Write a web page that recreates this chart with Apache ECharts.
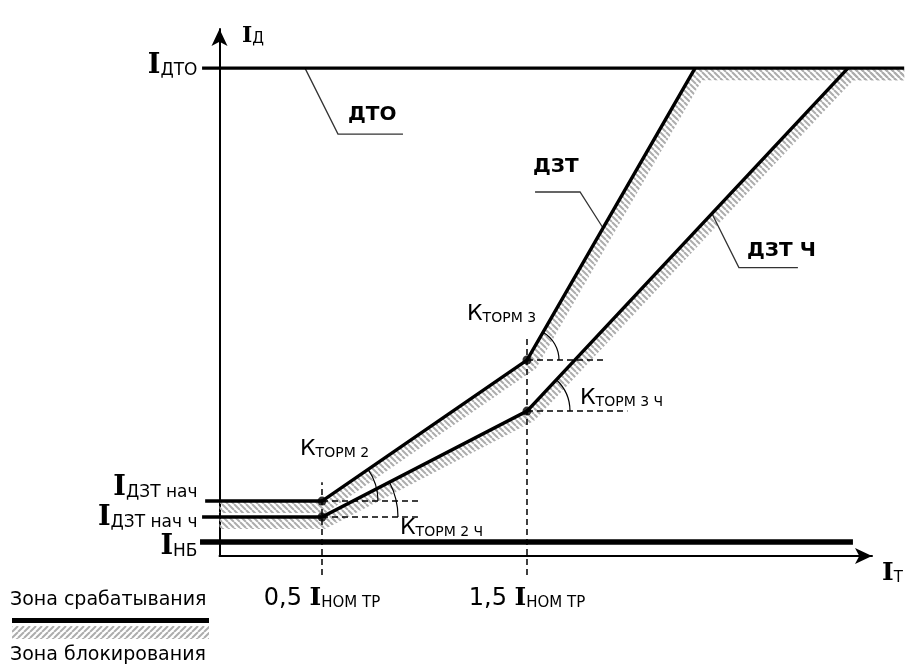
<!DOCTYPE html>
<html><head><meta charset="utf-8">
<script src="https://cdn.jsdelivr.net/npm/echarts@6/dist/echarts.min.js"></script>
<style>html,body{margin:0;padding:0;background:#fff}#c{width:905px;height:666px}</style>
</head><body><div id="c"></div>
<script>
// ---------- data ----------
const X_TICKS = [0.5, 1.5];
const X_TICK_TEXT = ['0,5', '1,5'];
const Y_TICKS = [0.068, 0.19, 0.268, 2.38];
const Y_TICK_SUB = ['НБ', 'ДЗТ нач ч', 'ДЗТ нач', 'ДТО'];

const DZT_X = [-0.07, 0.5, 1.5, 2.32];
const DZT_Y = [0.268, 0.268, 0.956, 2.38];
const DZTCH_X = [-0.085, 0.5, 1.5, 3.066];
const DZTCH_Y = [0.19, 0.19, 0.707, 2.38];
const DTO_X = [-0.085, 3.34];
const DTO_Y = [2.38, 2.38];
const NB_X = [-0.095, 3.09];
const NB_Y = [0.068, 0.068];

const BAND1_X = [0, 0.5, 1.5, 2.32, 3.34];
const BAND1_Y = [0.268, 0.268, 0.956, 2.38, 2.38];
const BAND2_X = [0, 0.5, 1.5, 3.066, 3.34];
const BAND2_Y = [0.19, 0.19, 0.707, 2.38, 2.38];

const GUIDE_V_X = [0.5, 1.5];
const GUIDE_V_Y0 = [-0.093, -0.093];
const GUIDE_V_Y1 = [0.36, 1.06];
const GUIDE_H_Y = [0.268, 0.19, 0.956, 0.707];
const GUIDE_H_X0 = [0.5, 0.5, 1.5, 1.5];
const GUIDE_H_X1 = [0.978, 0.968, 1.88, 1.99];

const BREAK_X = [0.5, 0.5, 1.5, 1.5];
const BREAK_Y = [0.268, 0.19, 0.956, 0.707];
const BREAK_NEXT_X = [1.5, 1.5, 2.32, 3.066];
const BREAK_NEXT_Y = [0.956, 0.707, 2.38, 2.38];

const LEADER_X = [0.417, 1.871, 2.402];
const LEADER_LINE = [[DTO_X, DTO_Y], [DZT_X, DZT_Y], [DZTCH_X, DZTCH_Y]];

// ---------- styles ----------
const Y_LABEL_DY = [4, 0, -14, -3];   // pixel nudges of the left-hand labels
const ARC_R = [56, 76, 32, 43];
const LEADER_OFF = [[[33, 66], [98, 66]], [[-23, -36], [-68, -36]], [[27, 54], [86, 54]]];

function hatch(dir) {
  const s = 6, c = document.createElement('canvas');
  c.width = s; c.height = s;
  const g = c.getContext('2d');
  g.strokeStyle = '#adadad'; g.lineWidth = 2;
  g.beginPath();
  for (let k = -1; k <= 1; k++) {
    if (dir === '\\') { g.moveTo(k * s, 0); g.lineTo(k * s + s, s); }
    else { g.moveTo(k * s, s); g.lineTo(k * s + s, 0); }
  }
  g.stroke();
  return { image: c, repeat: 'repeat' };
}
const HATCH_BACK = hatch('\\');
const HATCH_FWD = hatch('/');

function offsetPoly(pts, w) {
  const n = pts.length, norms = [], out = [];
  for (let i = 0; i < n - 1; i++) {
    const dx = pts[i + 1][0] - pts[i][0], dy = pts[i + 1][1] - pts[i][1];
    const L = Math.hypot(dx, dy);
    norms.push([-dy / L, dx / L]);
  }
  for (let i = 0; i < n; i++) {
    let nx, ny;
    if (i === 0) [nx, ny] = norms[0];
    else if (i === n - 1) [nx, ny] = norms[n - 2];
    else {
      const a = norms[i - 1], b = norms[i];
      let mx = a[0] + b[0], my = a[1] + b[1];
      const ml = Math.hypot(mx, my); mx /= ml; my /= ml;
      const d = mx * a[0] + my * a[1];
      nx = mx / d; ny = my / d;
    }
    out.push([pts[i][0] + nx * w, pts[i][1] + ny * w]);
  }
  return out;
}
function yOnLine(xs, ys, x) {
  for (let i = 0; i < xs.length - 1; i++) {
    if (x >= xs[i] && x <= xs[i + 1]) {
      const t = (x - xs[i]) / (xs[i + 1] - xs[i]);
      return ys[i] + t * (ys[i + 1] - ys[i]);
    }
  }
  return ys[ys.length - 1];
}

const chart = echarts.init(document.getElementById('c'), null, { renderer: 'canvas' });

const SERIF = 'DejaVu Serif';
const SANS = 'DejaVu Sans';
const axisLineStyle = { color: '#000', width: 2 };

// main characteristic lines (drawn through the cartesian scales, not clipped to the grid)
const MAIN_LINES = [[NB_X, NB_Y, 5.5], [DTO_X, DTO_Y, 3.4], [DZT_X, DZT_Y, 3.4], [DZTCH_X, DZTCH_Y, 3.4]];

const option = {
  animation: false,
  backgroundColor: '#fff',
  grid: { left: 219.5, right: 33, top: 29, bottom: 110 },
  xAxis: {
    type: 'value', min: 0, max: 3.183,
    axisLine: { show: true, onZero: false, lineStyle: axisLineStyle, symbol: ['none', 'arrow'], symbolSize: [12, 17] },
    axisTick: { show: false }, splitLine: { show: false },
    axisLabel: {
      customValues: X_TICKS, margin: 27, hideOverlap: false, showMinLabel: true, showMaxLabel: true,
      formatter: (v) => {
        const k = X_TICKS.findIndex(t => Math.abs(t - v) < 1e-6);
        return '{n|' + X_TICK_TEXT[k] + ' }{i|I}{s|НОМ ТР}';
      },
      rich: {
        n: { fontFamily: SANS, fontSize: 24, lineHeight: 28, verticalAlign: 'bottom', color: '#000' },
        i: { fontFamily: SERIF, fontWeight: 'bold', fontSize: 25, lineHeight: 28, verticalAlign: 'bottom', color: '#000' },
        s: { fontFamily: SANS, fontSize: 15, lineHeight: 15, verticalAlign: 'bottom', color: '#000' }
      }
    }
  },
  yAxis: {
    type: 'value', min: 0, max: 2.571,
    axisLine: { show: true, onZero: false, lineStyle: axisLineStyle, symbol: ['none', 'arrow'], symbolSize: [12, 17] },
    axisTick: { show: false }, splitLine: { show: false }, axisLabel: { show: false }
  },
  series: [
    // hatched blocking bands
    {
      type: 'custom', silent: true, z: 1, clip: false,
      data: [[0, 0], [1, 0]],
      renderItem: (params, api) => {
        const bx = params.dataIndex === 0 ? BAND1_X : BAND2_X;
        const by = params.dataIndex === 0 ? BAND1_Y : BAND2_Y;
        const pts = bx.map((x, i) => api.coord([x, by[i]]));
        const off = offsetPoly(pts, 12).reverse();
        return { type: 'polygon', shape: { points: pts.concat(off) }, style: { fill: HATCH_BACK, stroke: null } };
      }
    },
    // level labels on the Y axis (I_ДТО, I_ДЗТ нач, ...)
    {
      type: 'custom', silent: true, z: 10, clip: false,
      data: Y_TICKS.map(v => [0, v]),
      renderItem: (params, api) => {
        const k = params.dataIndex;
        const p = api.coord([api.value(0), api.value(1)]);
        return {
          type: 'text', x: p[0] - 22, y: p[1] + Y_LABEL_DY[k],
          style: {
            text: '{i|I}{s|' + Y_TICK_SUB[k] + '}', align: 'right', verticalAlign: 'middle',
            rich: {
              i: { fontFamily: SERIF, fontWeight: 'bold', fontSize: 27, lineHeight: 28, verticalAlign: 'bottom', fill: '#000' },
              s: { fontFamily: SANS, fontSize: 17, lineHeight: 16, verticalAlign: 'bottom', fill: '#000' }
            }
          }
        };
      }
    },
    // dashed guides
    {
      type: 'custom', silent: true, z: 3, clip: false,
      data: GUIDE_V_X.map((x, i) => [x, GUIDE_V_Y0[i], GUIDE_V_Y1[i]]),
      renderItem: (params, api) => {
        const a = api.coord([api.value(0), api.value(1)]);
        const b = api.coord([api.value(0), api.value(2)]);
        return { type: 'line', shape: { x1: a[0], y1: a[1], x2: b[0], y2: b[1] },
          style: { stroke: '#000', lineWidth: 1.5, lineDash: [6, 4] } };
      }
    },
    {
      type: 'custom', silent: true, z: 3, clip: false,
      data: GUIDE_H_Y.map((y, i) => [GUIDE_H_X0[i], y, GUIDE_H_X1[i]]),
      renderItem: (params, api) => {
        const a = api.coord([api.value(0), api.value(1)]);
        const b = api.coord([api.value(2), api.value(1)]);
        return { type: 'line', shape: { x1: a[0], y1: a[1], x2: b[0], y2: b[1] },
          style: { stroke: '#000', lineWidth: 1.5, lineDash: [6, 4] } };
      }
    },
    // angle arcs
    {
      type: 'custom', silent: true, z: 3, clip: false,
      data: BREAK_X.map((x, i) => [x, BREAK_Y[i], BREAK_NEXT_X[i], BREAK_NEXT_Y[i]]),
      renderItem: (params, api) => {
        const c = api.coord([api.value(0), api.value(1)]);
        const n = api.coord([api.value(2), api.value(3)]);
        const ang = Math.atan2(n[1] - c[1], n[0] - c[0]);
        return { type: 'arc', shape: { cx: c[0], cy: c[1], r: ARC_R[params.dataIndex], startAngle: ang, endAngle: 0, clockwise: true },
          style: { stroke: '#000', fill: null, lineWidth: 1.2 } };
      }
    },
    // leader lines
    {
      type: 'custom', silent: true, z: 3, clip: false,
      data: LEADER_X.map((x, i) => [x, yOnLine(LEADER_LINE[i][0], LEADER_LINE[i][1], x)]),
      renderItem: (params, api) => {
        const p = api.coord([api.value(0), api.value(1)]);
        const o = LEADER_OFF[params.dataIndex];
        return { type: 'polyline', shape: { points: [p, [p[0] + o[0][0], p[1] + o[0][1]], [p[0] + o[1][0], p[1] + o[1][1]]] },
          style: { stroke: '#333', lineWidth: 1.3, fill: null } };
      }
    },
    // characteristic lines
    {
      type: 'custom', silent: true, z: 5, clip: false,
      data: MAIN_LINES.map((m, i) => [i, 0]),
      renderItem: (params, api) => {
        const m = MAIN_LINES[params.dataIndex];
        const pts = m[0].map((x, i) => api.coord([x, m[1][i]]));
        return { type: 'polyline', shape: { points: pts },
          style: { stroke: '#000', lineWidth: m[2], fill: null, lineJoin: 'miter', lineCap: 'butt' } };
      }
    },
    {
      type: 'scatter', data: BREAK_X.map((x, i) => [x, BREAK_Y[i]]), symbol: 'circle', symbolSize: 9, z: 6, silent: true,
      itemStyle: { color: '#000' }, clip: false
    }
  ],
  graphic: [
    { type: 'text', x: 242, y: 36, z: 10, style: { text: '{i|I}{s|Д}', align: 'left', verticalAlign: 'middle',
      rich: { i: { fontFamily: SERIF, fontWeight: 'bold', fontSize: 22, lineHeight: 22, verticalAlign: 'bottom', fill: '#000' },
              s: { fontFamily: SANS, fontSize: 15, lineHeight: 13, verticalAlign: 'bottom', fill: '#000' } } } },
    { type: 'text', x: 882, y: 573, z: 10, style: { text: '{i|I}{s|Т}', align: 'left', verticalAlign: 'middle',
      rich: { i: { fontFamily: SERIF, fontWeight: 'bold', fontSize: 25, lineHeight: 26, verticalAlign: 'bottom', fill: '#000' },
              s: { fontFamily: SANS, fontSize: 15, lineHeight: 12, verticalAlign: 'bottom', fill: '#000' } } } },
    { type: 'text', x: 348, y: 115, z: 10, style: { text: 'ДТО', font: 'bold 20px "DejaVu Sans"', fill: '#000', align: 'left', verticalAlign: 'middle' } },
    { type: 'text', x: 533, y: 167, z: 10, style: { text: 'ДЗТ', font: 'bold 20px "DejaVu Sans"', fill: '#000', align: 'left', verticalAlign: 'middle' } },
    { type: 'text', x: 747, y: 251, z: 10, style: { text: 'ДЗТ Ч', font: 'bold 20px "DejaVu Sans"', fill: '#000', align: 'left', verticalAlign: 'middle' } },
    ...[['3', 467, 314], ['3 Ч', 580, 398], ['2', 300, 449], ['2 Ч', 400, 528]].map(([t, x, y]) => ({
      type: 'text', x, y, z: 10, style: { text: '{k|К}{s|ТОРМ ' + t + '}', align: 'left', verticalAlign: 'middle',
        rich: { k: { fontFamily: SANS, fontSize: 22, lineHeight: 22, verticalAlign: 'bottom', fill: '#000' },
                s: { fontFamily: SANS, fontSize: 14, lineHeight: 14, verticalAlign: 'bottom', fill: '#000' } } }
    })),
    { type: 'text', x: 10, y: 600, z: 10, style: { text: 'Зона срабатывания', font: '19px "DejaVu Sans"', fill: '#000', align: 'left', verticalAlign: 'middle' } },
    { type: 'rect', x: 12, y: 618, z: 10, shape: { width: 197, height: 5 }, style: { fill: '#000' } },
    { type: 'rect', x: 12, y: 626, z: 10, shape: { width: 197, height: 13 }, style: { fill: HATCH_FWD } },
    { type: 'text', x: 10, y: 655, z: 10, style: { text: 'Зона блокирования', font: '19px "DejaVu Sans"', fill: '#000', align: 'left', verticalAlign: 'middle' } }
  ]
};
chart.setOption(option);
</script>
</body></html>
